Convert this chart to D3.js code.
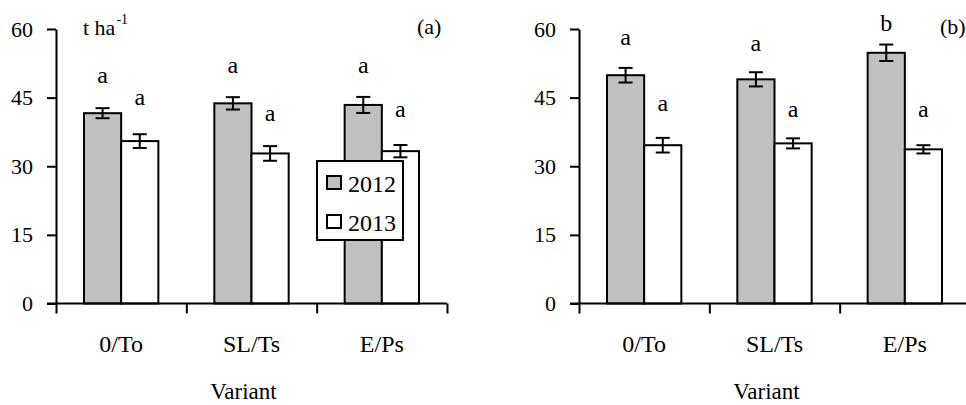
<!DOCTYPE html>
<html>
<head>
<meta charset="utf-8">
<script src="https://cdn.jsdelivr.net/npm/d3@7"></script>
<style>
  html, body { margin: 0; padding: 0; background: #fff; }
  svg { display: block; }
  svg text { font-family: "Liberation Serif", "Tinos", "Times New Roman", Times, "DejaVu Serif", serif !important; fill: #000; }
</style>
</head>
<body>
<svg id="chart" width="966" height="405"></svg>
<script>
// ---- data ----
const categories = ["0/To", "SL/Ts", "E/Ps"];
const series = ["2012", "2013"];
const yTicks = [0, 15, 30, 45, 60];
const panelLabels = ["(a)", "(b)"];

// panel (a)
const a2012 = [41.6, 43.75, 43.4];
const a2012Err = [1.1, 1.35, 1.75];
const a2013 = [35.5, 32.8, 33.3];
const a2013Err = [1.5, 1.6, 1.35];
const aLetters2012 = ["a", "a", "a"];
const aLetters2013 = ["a", "a", "a"];
const aLetterLevel2012 = [48.1, 50.4, 50.4];   // y-value of the letter baseline
const aLetterLevel2013 = [43.4, 40.0, 40.8];

// panel (b)
const b2012 = [49.9, 49.0, 54.8];
const b2012Err = [1.6, 1.55, 1.8];
const b2013 = [34.6, 35.0, 33.7];
const b2013Err = [1.6, 1.1, 0.9];
const bLetters2012 = ["a", "a", "b"];
const bLetters2013 = ["a", "a", "a"];
const bLetterLevel2012 = [56.4, 55.1, 59.6];
const bLetterLevel2013 = [42.1, 40.7, 40.8];

const unitLabel = "t ha";
const unitSup = "-1";
const xTitle = "Variant";

// ---- layout ----
const FONT = '"Liberation Serif", "Tinos", "Times New Roman", Times, "DejaVu Serif", serif';
const svg = d3.select("#chart");
const fills = { "2012": "#c0c0c0", "2013": "#ffffff" };
const yTop = 29, yBottom = 303.5;
const panelW = 391;

const y = d3.scaleLinear().domain([0, 60]).range([yBottom, yTop]);

function panel(x0, p, label, showUnit, showLegend) {
  const g = svg.append("g").attr("font-family", FONT);
  const x = d3.scaleBand().domain(categories).range([x0, x0 + panelW]).paddingInner(0).paddingOuter(0);
  const xs = d3.scaleBand().domain(series).range([0, x.bandwidth()]).paddingInner(0).paddingOuter(0.753);
  const xb = d3.scaleLinear().domain([0, categories.length]).range([x0, x0 + panelW]);

  const rows = [];
  categories.forEach((c, i) => {
    rows.push({ c, s: "2012", v: p.v12[i], e: p.e12[i], l: p.l12[i], ly: p.ly12[i] });
    rows.push({ c, s: "2013", v: p.v13[i], e: p.e13[i], l: p.l13[i], ly: p.ly13[i] });
  });

  g.selectAll("rect.bar").data(rows).join("rect")
    .attr("class", "bar")
    .attr("x", d => x(d.c) + xs(d.s))
    .attr("y", d => y(d.v))
    .attr("width", xs.bandwidth())
    .attr("height", d => y(0) - y(d.v))
    .attr("fill", d => fills[d.s])
    .attr("stroke", "#000")
    .attr("stroke-width", 2);

  const eb = g.selectAll("g.err").data(rows).join("g").attr("class", "err")
    .attr("transform", d => `translate(${x(d.c) + xs(d.s) + xs.bandwidth() / 2},0)`);
  eb.append("line").attr("x1", 0).attr("x2", 0)
    .attr("y1", d => y(d.v + d.e)).attr("y2", d => y(d.v - d.e))
    .attr("stroke", "#000").attr("stroke-width", 2);
  eb.append("line").attr("x1", -7).attr("x2", 7)
    .attr("y1", d => y(d.v + d.e)).attr("y2", d => y(d.v + d.e))
    .attr("stroke", "#000").attr("stroke-width", 2);
  eb.append("line").attr("x1", -7).attr("x2", 7)
    .attr("y1", d => y(d.v - d.e)).attr("y2", d => y(d.v - d.e))
    .attr("stroke", "#000").attr("stroke-width", 2);

  g.selectAll("text.sig").data(rows).join("text")
    .attr("class", "sig")
    .attr("x", d => x(d.c) + xs(d.s) + xs.bandwidth() / 2)
    .attr("y", d => y(d.ly))
    .attr("text-anchor", "middle")
    .attr("font-size", 24)
    .text(d => d.l);

  const ya = g.append("g").attr("transform", `translate(${x0},0)`)
    .call(d3.axisLeft(y).tickValues(yTicks).tickSize(9).tickSizeOuter(0).tickPadding(14));
  ya.attr("font-family", FONT);
  ya.select(".domain").attr("stroke", "#000").attr("stroke-width", 2);
  ya.selectAll(".tick line").attr("stroke", "#000").attr("stroke-width", 2);
  ya.selectAll(".tick text").attr("font-size", 22).attr("fill", "#000");

  const xa = g.append("g").attr("transform", `translate(0,${y(0)})`)
    .call(d3.axisBottom(xb).tickValues(d3.range(categories.length + 1)).tickFormat("").tickSize(10).tickSizeOuter(0));
  xa.select(".domain").remove();
  xa.selectAll(".tick line").attr("stroke", "#000").attr("stroke-width", 2);
  g.append("line").attr("x1", x0 - 9).attr("x2", x0 + panelW)
    .attr("y1", y(0)).attr("y2", y(0)).attr("stroke", "#000").attr("stroke-width", 2);

  const xl = g.append("g").attr("transform", `translate(0,${y(0)})`)
    .call(d3.axisBottom(x).tickSize(0));
  xl.attr("font-family", FONT);
  xl.select(".domain").remove();
  xl.selectAll(".tick text").attr("y", 48).attr("dy", 0)
    .attr("font-size", 24).attr("fill", "#000");

  g.append("text").attr("x", x0 + panelW / 2 - 8).attr("y", 399)
    .attr("text-anchor", "middle").attr("font-size", 23).text(xTitle);

  g.append("text").attr("x", x0 + 361).attr("y", 34).attr("font-size", 22).text(label);

  if (showUnit) {
    const t = g.append("text").attr("x", x0 + 27).attr("y", 35).attr("font-size", 22);
    t.append("tspan").text(unitLabel);
    t.append("tspan").attr("font-size", 14).attr("dy", -11).attr("dx", 1).text(unitSup);
  }

  if (showLegend) {
    const lg = g.append("g");
    lg.append("rect").attr("x", 317).attr("y", 161).attr("width", 86).attr("height", 79)
      .attr("fill", "#fff").attr("stroke", "#000").attr("stroke-width", 2);
    series.forEach((s, i) => {
      const cy = 183 + i * 39;
      lg.append("rect").attr("x", 327).attr("y", cy - 7).attr("width", 14).attr("height", 13)
        .attr("fill", fills[s]).attr("stroke", "#000").attr("stroke-width", 2);
      lg.append("text").attr("x", 348).attr("y", cy + 8.5).attr("font-size", 24).text(s);
    });
  }
}

panel(56, { v12: a2012, e12: a2012Err, v13: a2013, e13: a2013Err, l12: aLetters2012, l13: aLetters2013, ly12: aLetterLevel2012, ly13: aLetterLevel2013 }, panelLabels[0], true, true);
panel(579, { v12: b2012, e12: b2012Err, v13: b2013, e13: b2013Err, l12: bLetters2012, l13: bLetters2013, ly12: bLetterLevel2012, ly13: bLetterLevel2013 }, panelLabels[1], false, false);
</script>
</body>
</html>
